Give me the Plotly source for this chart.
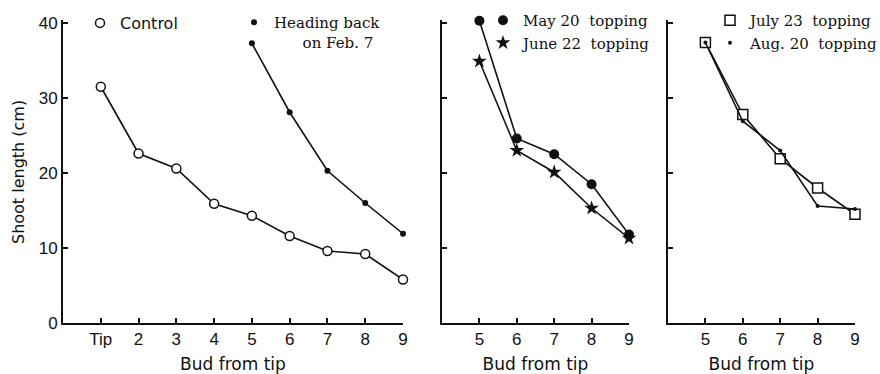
import plotly.graph_objects as go

# ---- data ----
buds_all = ["Tip", "2", "3", "4", "5", "6", "7", "8", "9"]
buds_late = ["5", "6", "7", "8", "9"]

control = [31.5, 22.6, 20.6, 15.9, 14.3, 11.6, 9.6, 9.2, 5.8]
heading_back = [37.3, 28.1, 20.3, 16.0, 11.9]

may20 = [40.3, 24.6, 22.5, 18.5, 11.8]
june22 = [34.9, 23.0, 20.1, 15.3, 11.3]

july23 = [37.4, 27.8, 21.9, 18.0, 14.5]
aug20 = [37.4, 26.9, 23.0, 15.6, 15.2]

y_ticks = [0, 10, 20, 30, 40]

BLACK = "#111111"
SANS = "DejaVu Sans"
SERIF = "DejaVu Serif"
TICKF = "Liberation Sans"

fig = go.Figure()


def add_series(x, y, xa, ya, symbol, size, name, legend, line_w=1.6, open_=False):
    fig.add_trace(go.Scatter(
        x=x, y=y, xaxis=xa, yaxis=ya, mode="lines",
        line=dict(color=BLACK, width=line_w), showlegend=False,
        hoverinfo="skip", cliponaxis=False))
    fig.add_trace(go.Scatter(
        x=x, y=y, xaxis=xa, yaxis=ya, mode="markers", name=name,
        legend=legend, showlegend=True, cliponaxis=False,
        marker=dict(symbol=symbol, size=size,
                    color="white" if open_ else BLACK,
                    line=dict(color=BLACK, width=1.5 if open_ else 0))))


add_series(buds_all, control, "x", "y", "circle", 9, "Control", "legend", open_=True)
add_series(buds_late, heading_back, "x", "y", "circle", 6,
           "Heading back<br>\u00a0\u00a0\u00a0\u00a0\u00a0\u00a0on Feb. 7", "legend2")
add_series(buds_late, may20, "x2", "y2", "circle", 10, "May 20\u00a0 topping", "legend3")
add_series(buds_late, june22, "x2", "y2", "star", 11, "June 22\u00a0 topping", "legend3")
add_series(buds_late, july23, "x3", "y3", "square", 10, "July 23\u00a0 topping", "legend4", open_=True)
add_series(buds_late, aug20, "x3", "y3", "circle", 4, "Aug. 20\u00a0 topping", "legend4")

L, R, T, B = 63, 25, 20, 51
W, H = 880, 374
pw = W - L - R


def px_x(p):
    return (p - L) / pw


def cx(p):
    return p / W


def cy(p):
    return 1 - p / H


xcommon = dict(type="category", showline=True, linecolor=BLACK, linewidth=2,
               ticks="inside", ticklen=5, tickwidth=1.5, tickcolor=BLACK,
               showgrid=False, zeroline=False, automargin=False,
               tickfont=dict(family=TICKF, size=17, color=BLACK),
               title=dict(text="Bud from tip", font=dict(family=SANS, size=17, color=BLACK),
                          standoff=14))
ycommon = dict(range=[0, 40.4], showline=True, linecolor=BLACK, linewidth=2,
               ticks="inside", ticklen=5, tickwidth=1.5, tickcolor=BLACK,
               tickvals=y_ticks, showgrid=False, zeroline=False, automargin=False,
               tickfont=dict(family=TICKF, size=17, color=BLACK))

leg = dict(xref="container", yref="container", bgcolor="rgba(0,0,0,0)",
           itemwidth=30, tracegroupgap=0)

fig.update_layout(
    width=W, height=H,
    margin=dict(l=L, r=R, t=T, b=B, autoexpand=False),
    paper_bgcolor="white", plot_bgcolor="white",
    xaxis=dict(xcommon, domain=[px_x(63), px_x(403)], range=[-1, 8],
               categoryorder="array", categoryarray=buds_all),
    xaxis2=dict(xcommon, domain=[px_x(442), px_x(629)], range=[-1, 4],
                categoryorder="array", categoryarray=buds_late),
    xaxis3=dict(xcommon, domain=[px_x(668), px_x(855)], range=[-1, 4],
                categoryorder="array", categoryarray=buds_late),
    yaxis=dict(ycommon, anchor="x"),
    yaxis2=dict(ycommon, anchor="x2", showticklabels=False),
    yaxis3=dict(ycommon, anchor="x3", showticklabels=False),
    legend=dict(leg, x=cx(80), y=cy(23), xanchor="left", yanchor="middle",
                font=dict(family=SANS, size=16, color=BLACK)),
    legend2=dict(leg, x=cx(234), y=cy(6), xanchor="left", yanchor="top", valign="top",
                 font=dict(family=SERIF, size=15, color=BLACK)),
    legend3=dict(leg, x=cx(483), y=cy(4), xanchor="left", yanchor="top",
                 font=dict(family=SERIF, size=15, color=BLACK)),
    legend4=dict(leg, x=cx(710), y=cy(4), xanchor="left", yanchor="top",
                 font=dict(family=SERIF, size=15, color=BLACK)),
    annotations=[dict(text="Shoot length (cm)", textangle=-90, showarrow=False,
                      xref="paper", yref="paper", x=px_x(18), y=(323 - 172) / 303,
                      xanchor="center", yanchor="middle",
                      font=dict(family=SANS, size=16, color=BLACK))],
)

fig.write_html("out.html")
